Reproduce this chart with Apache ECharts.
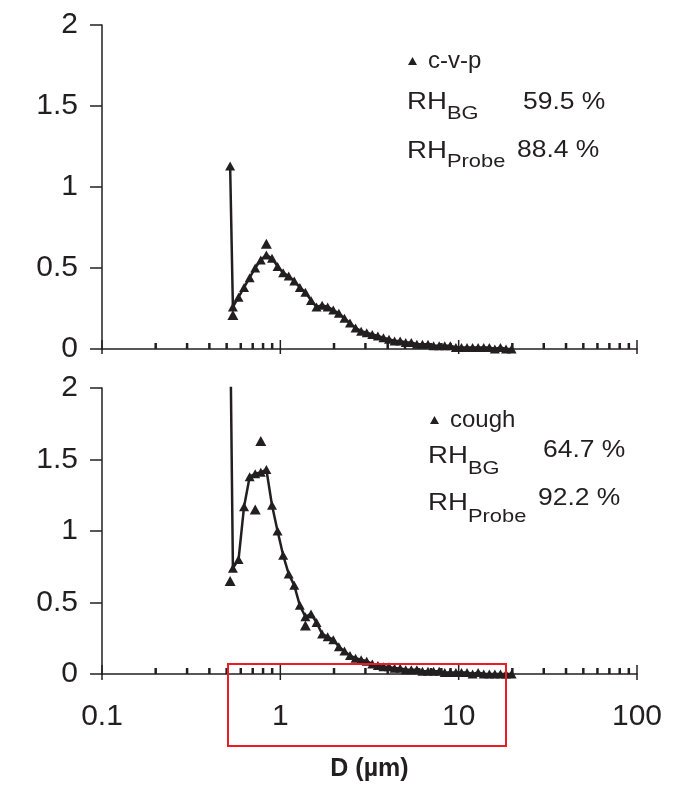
<!DOCTYPE html>
<html>
<head>
<meta charset="utf-8">
<script src="https://cdn.jsdelivr.net/npm/echarts@6/dist/echarts.min.js"></script>
<style>
html,body{margin:0;padding:0;background:#fff;}
#chart{width:687px;height:786px;}
</style>
</head>
<body>
<div id="chart"></div>
<script>
// APS channel mid-point diameters (µm)
const diameters = [0.523,0.542,0.583,0.626,0.673,0.723,0.777,0.835,0.898,0.965,1.037,1.114,1.197,1.286,1.382,1.486,1.596,1.715,1.843,1.981,2.129,2.288,2.458,2.642,2.839,3.051,3.278,3.523,3.786,4.068,4.371,4.698,5.048,5.425,5.829,6.264,6.732,7.234,7.774,8.354,8.977,9.647,10.37,11.14,11.97,12.86,13.82,14.86,15.96,17.15,18.43,19.81];

// c-v-p (top panel) line values
const cvpValues = [1.13,0.26,0.32,0.38,0.44,0.50,0.55,0.58,0.56,0.51,0.47,0.45,0.42,0.38,0.35,0.30,0.26,0.27,0.26,0.24,0.22,0.19,0.16,0.13,0.11,0.10,0.09,0.08,0.07,0.06,0.05,0.05,0.04,0.04,0.03,0.03,0.03,0.02,0.02,0.02,0.02,0.01,0.01,0.01,0.01,0.01,0.01,0.01,0.00,0.01,0.00,0.00];
// extra c-v-p triangles off the line
const cvpExtraD = [0.542,0.835];
const cvpExtraV = [0.21,0.65];

// cough (bottom panel) line values (first value runs off the top of the axis)
const coughValues = [2.5,0.74,0.80,1.17,1.38,1.40,1.41,1.43,1.18,1.00,0.83,0.70,0.62,0.48,0.40,0.42,0.36,0.28,0.26,0.24,0.19,0.16,0.13,0.11,0.10,0.09,0.07,0.06,0.05,0.05,0.04,0.04,0.03,0.03,0.03,0.02,0.02,0.02,0.02,0.01,0.01,0.01,0.01,0.01,0.00,0.01,0.00,0.00,0.00,0.00,0.00,0.00];
const coughExtraD = [0.523,0.723,0.777,1.382];
const coughExtraV = [0.65,1.15,1.63,0.34];

// axis ticks
const xMajorTicks = [0.1,1,10,100];
const xMinorTicks = [0.2,0.3,0.4,0.5,0.6,0.7,0.8,0.9,2,3,4,5,6,7,8,9,20,30,40,50,60,70,80,90];

const INK = '#231f20';
const FONT = 'Liberation Sans, Arial, sans-serif';

function pairs(xs, ys){ return xs.map((x,i)=>[x, ys[i]]); }

function tickSeries(idx, vals, up, down, width){
  return {
    type:'custom', xAxisIndex:idx, yAxisIndex:idx, silent:true, clip:false, z:5,
    data: vals.map(v=>[v,0]),
    renderItem:function(params, api){
      const p = api.coord([api.value(0), 0]);
      return {type:'line', shape:{x1:p[0], y1:p[1]-up, x2:p[0], y2:p[1]+down},
              style:{stroke:INK, lineWidth:width}};
    }
  };
}

function xAxisCfg(idx, showLabels){
  return {
    type:'log', logBase:10, gridIndex:idx, min:0.1, max:100,
    axisLine:{show:true, lineStyle:{color:INK, width:1.5}},
    axisTick:{show:false},
    splitLine:{show:false},
    axisLabel:{show:showLabels, color:INK, fontSize:30, fontFamily:FONT, margin:28,
      formatter:function(v){ return String(v); }},
    name: showLabels ? 'D (µm)' : '',
    nameLocation:'middle', nameGap:83,
    nameTextStyle:{color:INK, fontSize:25, fontWeight:'bold', fontFamily:FONT}
  };
}
function yAxisCfg(idx){
  return {
    type:'value', gridIndex:idx, min:0, max:2, interval:0.5,
    axisLine:{show:true, lineStyle:{color:INK, width:1.5}},
    axisTick:{show:true, inside:false, length:12, lineStyle:{color:INK, width:1.5}},
    splitLine:{show:false},
    axisLabel:{color:INK, fontSize:30, fontFamily:FONT, margin:24}
  };
}

function lineSeries(idx, name, ys){
  return {
    type:'line', name:name, xAxisIndex:idx, yAxisIndex:idx,
    data:pairs(diameters, ys), clip:true,
    symbol:'triangle', symbolSize:[10,9], showAllSymbol:true,
    lineStyle:{color:INK, width:2.5}, itemStyle:{color:INK, opacity:1}, z:3
  };
}
function extraSeries(idx, name, xs, ys){
  return {
    type:'scatter', name:name, xAxisIndex:idx, yAxisIndex:idx,
    data:pairs(xs, ys), clip:true,
    symbol:'triangle', symbolSize:[11,10], itemStyle:{color:INK, opacity:1}, z:4
  };
}

const chart = echarts.init(document.getElementById('chart'), null, {renderer:'canvas'});

function txt(x, y, s, size){
  return {type:'text', x:x, y:y, scaleX:1.15,
    style:{text:s, fill:INK, font: size+'px '+FONT, textAlign:'left', textVerticalAlign:'middle'}};
}

chart.setOption({
  animation:false,
  backgroundColor:'#fff',
  grid:[
    {left:102, top:25, width:535, height:324},
    {left:102, top:388, width:535, height:286}
  ],
  xAxis:[xAxisCfg(0,false), xAxisCfg(1,true)],
  yAxis:[yAxisCfg(0), yAxisCfg(1)],
  legend:[
    {data:[{name:'c-v-p', icon:'triangle'}], left:403, top:44, itemWidth:9, itemHeight:8, padding:5,
     textStyle:{color:INK, fontSize:24, fontFamily:FONT, padding:[0,0,0,6]}},
    {data:[{name:'cough', icon:'triangle'}], left:425, top:403, itemWidth:9, itemHeight:8, padding:5,
     textStyle:{color:INK, fontSize:24, fontFamily:FONT, padding:[0,0,0,6]}}
  ],
  graphic:[
    txt(407,102,'RH',24), txt(447,114,'BG',19), txt(523,103,'59.5 %',23),
    txt(407,151,'RH',24), txt(447,162,'Probe',19), txt(517,151,'88.4 %',23),
    txt(428,456,'RH',24), txt(468,469,'BG',19), txt(543,451,'64.7 %',23),
    txt(428,503,'RH',24), txt(468,517,'Probe',19), txt(538,499,'92.2 %',23),
    {type:'rect', shape:{x:228, y:664, width:278, height:82},
     style:{fill:'none', stroke:'#ec1c24', lineWidth:2}, z:100}
  ],
  series:[
    lineSeries(0,'c-v-p',cvpValues),
    extraSeries(0,'c-v-p',cvpExtraD,cvpExtraV),
    lineSeries(1,'cough',coughValues),
    extraSeries(1,'cough',coughExtraD,coughExtraV),
    tickSeries(0, xMinorTicks, 6, 0, 2.5),
    tickSeries(0, xMajorTicks, 9, 5, 1.5),
    tickSeries(1, xMinorTicks, 6, 0, 2.5),
    tickSeries(1, xMajorTicks, 9, 6, 1.5)
  ]
});
</script>
</body>
</html>
